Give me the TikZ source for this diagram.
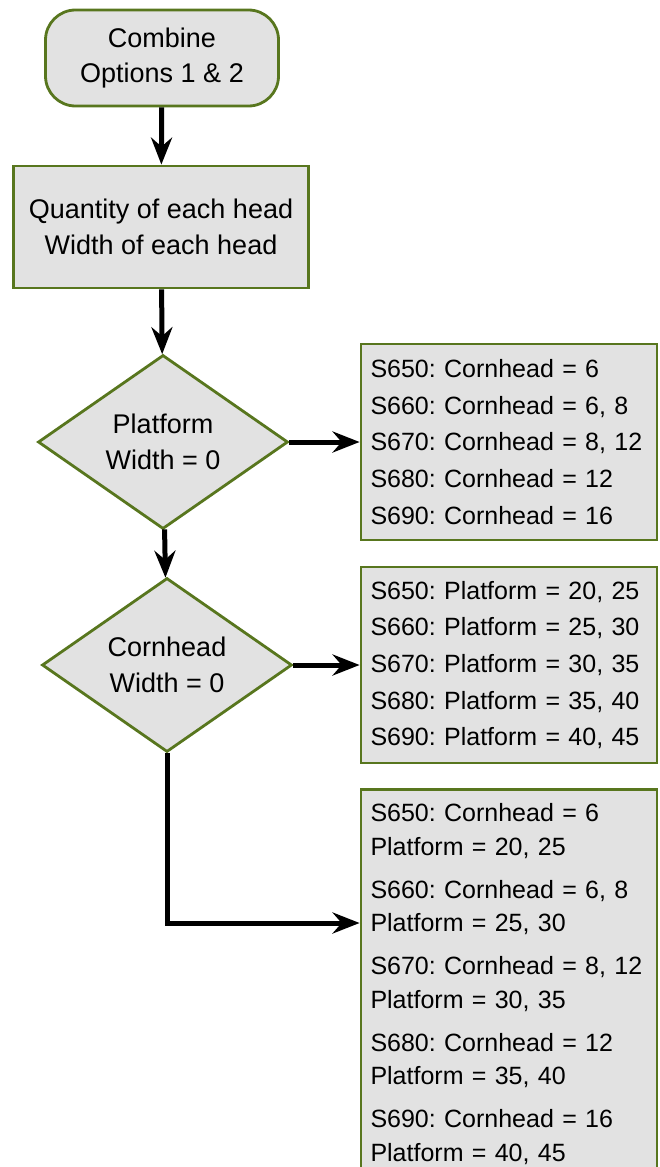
\documentclass[tikz,border=0pt]{standalone}
\usepackage{fontspec}
\setmainfont{Liberation Sans}
\usetikzlibrary{shapes.geometric,arrows.meta}
\definecolor{framegreen}{RGB}{88,118,30}
\definecolor{boxgray}{RGB}{226,226,226}
\frenchspacing
\begin{document}
\begin{tikzpicture}
    [x=1pt,y=-1pt,
     every node/.style={font=\fontsize{27}{35.5}\selectfont},
     pre/.style={<-,>={Stealth[length=27pt,width=21pt,inset=9pt]},line width=5pt},
     post/.style={->,>={Stealth[length=27pt,width=21pt,inset=9pt]},line width=5pt},
     box/.style={draw=framegreen,fill=boxgray,line width=2.8pt,align=center},
     dia/.style={box,diamond,inner sep=0pt,aspect=1.44,minimum width=250pt,minimum height=174pt},
     list/.style={box,align=left,text width=277pt,inner xsep=9.5pt,font=\fontsize{25}{36.6}\selectfont}]
    \useasboundingbox (0,0) rectangle (659,1167);
    \clip (0,0) rectangle (659,1167);
    \node [box,rounded corners=30pt,minimum width=233pt,minimum height=96pt] (start) at (162,58)
      {Combine\\Options 1 \& 2};
    \node [box,minimum width=295pt,minimum height=122pt] (qty) at (161,227)
      {Quantity of each head\\Width of each head}
      edge [pre] (start);
    \node [dia] (dia1) at (163,442) {Platform\\Width = 0}
      edge [pre] (qty);
    \node [dia] (dia2) at (167,665) {Cornhead\\Width = 0}
      edge [pre] (dia1);
    \node [list,minimum height=196pt] (optA) at (509,442)
      {S650: Cornhead = 6\\S660: Cornhead = 6, 8\\S670: Cornhead = 8, 12\\S680: Cornhead = 12\\S690: Cornhead = 16}
      edge [pre] (dia1);
    \node [list,minimum height=196pt] (optB) at (509,665)
      {S650: Platform = 20, 25\\S660: Platform = 25, 30\\S670: Platform = 30, 35\\S680: Platform = 35, 40\\S690: Platform = 40, 45}
      edge [pre] (dia2);
    \node [list,anchor=north,inner ysep=14pt,font=\fontsize{25}{33.5}\selectfont] (optC) at (509,788)
      {S650: Cornhead = 6\\Platform = 20, 25\\[9.5pt]
       S660: Cornhead = 6, 8\\Platform = 25, 30\\[9.5pt]
       S670: Cornhead = 8, 12\\Platform = 30, 35\\[9.5pt]
       S680: Cornhead = 12\\Platform = 35, 40\\[9.5pt]
       S690: Cornhead = 16\\Platform = 40, 45};
    \coordinate (bend) at (170,923);
    \draw [post] (dia2.south) |- (bend -| optC.west);
  \end{tikzpicture}
\end{document}
